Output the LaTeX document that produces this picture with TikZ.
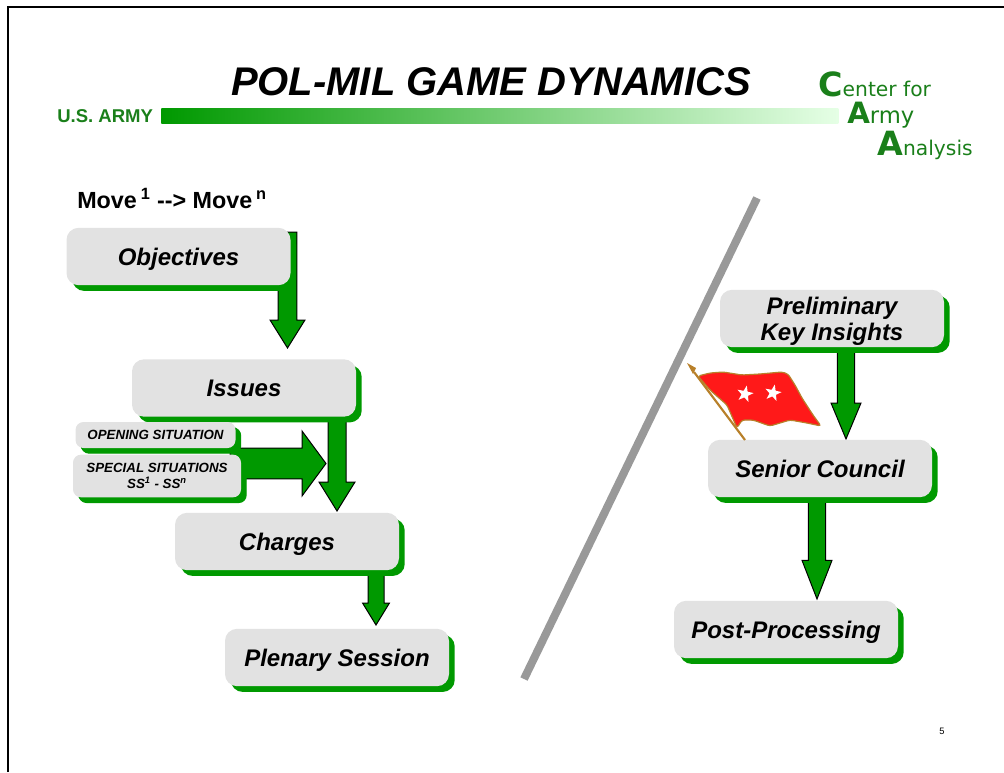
\documentclass[tikz,border=0pt]{standalone}
\usepackage{fontspec}
\setmainfont{Liberation Sans}
\newfontfamily\logofont{DejaVu Sans}
\usepackage{tikz}
\usetikzlibrary{positioning,calc,shadows,backgrounds,shapes.geometric}
\definecolor{cagreen}{HTML}{009900}
\definecolor{cabox}{HTML}{E2E2E2}
\definecolor{calogo}{HTML}{1A7F1A}
\definecolor{capole}{HTML}{B8802A}
\tikzset{gamebox/.style={shape=rectangle,rounded corners=9pt,fill=cabox,inner sep=0pt,align=center,text depth=0pt,
    font=\fontsize{18}{19.5}\selectfont\bfseries\itshape,minimum width=168pt,minimum height=43pt,
    general shadow={fill=cagreen,shadow xshift=4.3pt,shadow yshift=-4.3pt}}}
\tikzset{smallbox/.style={gamebox,rounded corners=6pt,font=\fontsize{10}{11.5}\selectfont\bfseries\itshape,
    general shadow={fill=cagreen,shadow xshift=3.8pt,shadow yshift=-3.8pt}}}
\tikzset{blockarrow/.style n args={3}{fill=cagreen,draw=black,line width=0.75pt,to path={
    ($(\tikztostart)!#1!90:(\tikztotarget)$)
    -- ($(\tikztotarget)!#3!(\tikztostart)!#1!90:(\tikztotarget)$)
    -- ($(\tikztotarget)!#3!(\tikztostart)!#2!90:(\tikztotarget)$)
    -- (\tikztotarget)
    -- ($(\tikztotarget)!#3!(\tikztostart)!#2!-90:(\tikztotarget)$)
    -- ($(\tikztotarget)!#3!(\tikztostart)!#1!-90:(\tikztotarget)$)
    -- ($(\tikztostart)!#1!-90:(\tikztotarget)$) -- cycle}}}
\tikzset{logotext/.style={anchor=base west,inner sep=0pt,text=calogo,font=\logofont\fontsize{15.2}{17}\selectfont}}
\tikzset{flagstar/.style={star,star points=5,star point ratio=2.5,fill=white,inner sep=0pt,minimum size=13pt,rotate=-12}}

\begin{document}
\begin{tikzpicture}[x=0.75pt,y=-0.75pt]
    \useasboundingbox (0,0) rectangle (1004,772);
    \draw[line width=1.5pt] (8,772) -- (8,7) -- (1004,7);

    % header
    \node[inner sep=0pt,font=\fontsize{30}{32}\selectfont\bfseries\itshape,anchor=base] (title) at (491,95) {POL-MIL GAME DYNAMICS};
    \node[inner sep=0pt,anchor=base west,text=calogo,font=\fontsize{13.9}{15}\selectfont\bfseries] (army) at (57,122) {U.S. ARMY};
    \node[shape=rectangle,inner sep=0pt,minimum width=507.75pt,minimum height=11.25pt,left color=cagreen,right color=green!10!white,anchor=west] (bar) at (161,115.5) {};
    \node[logotext] (center) at (818,96) {{\fontsize{25}{25}\selectfont\bfseries C}enter for};
    \node[logotext] (armyname) at (847,123) {{\fontsize{22}{22}\selectfont\bfseries A}{\fontsize{17}{17}\selectfont rmy}};
    \node[logotext] (analysis) at (877,155) {{\fontsize{25}{25}\selectfont\bfseries A}nalysis};

    \node[inner sep=0pt,anchor=base west,font=\fontsize{17.5}{19}\selectfont\bfseries] (move) at (77,208) {Move\,\textsuperscript{1} -{}-> Move\,\textsuperscript{n}};

    % left column
    \node[gamebox] (objectives) at (178.5,256.5) {Objectives};
    \node[gamebox] (issues) at (244,388) {Issues};
    \node[smallbox,minimum width=120pt,minimum height=19.5pt] (opening) at (155.5,435) {OPENING SITUATION};
    \node[smallbox,minimum width=126pt,minimum height=32pt] (special) at (157,476) {SPECIAL SITUATIONS\\SS\textsuperscript{1} - SS\textsuperscript{n}};
    \node[gamebox] (charges) at (287,541.5) {Charges};
    \node[gamebox] (plenary) at (337,657.5) {Plenary Session};

    % divider
    \coordinate (slashlow) at (524,679);
    \coordinate (slashhigh) at (757,198);
    \draw[line width=6pt,color=black!40] (slashlow) -- (slashhigh);

    % right column
    \node[gamebox] (insights) at (832,318.5) {Preliminary\\Key Insights};
    \node[gamebox] (council) at (820,468.5) {Senior Council};
    \node[gamebox] (postproc) at (786,629.5) {Post-Processing};

    % flag
    \draw[line width=1.6pt,color=capole] (694,372) -- (745,440);
    \fill[capole] (687,363) -- (696,368) -- (693,374) -- cycle;
    \draw[fill=red!90!white,draw=capole,line width=0.9pt,rounded corners=2pt] (698,376) -- (710,373) -- (723,372) -- (742,375) -- (760,374) -- (782,372)
        -- (788,374) -- (795,385) -- (802,398) -- (813,415) -- (821,426) -- (807,423) -- (790,420) -- (770,426)
        -- (753,420) -- (742,420) -- (737,428) -- (727,405) -- (710,390) -- cycle;
    \node[flagstar] (leftstar) at (745,394) {};
    \node[flagstar] (rightstar) at (773,393) {};

    \node[inner sep=0pt,font=\fontsize{7}{8}\selectfont] (page) at (942,731) {5};

    % arrow ends
    \coordinate (objout) at (287.5,232);
    \coordinate (objin) at (287.5,348);
    \coordinate (issout) at (337,405);
    \coordinate (issin) at (337,511);
    \coordinate (sitout) at (230,463.5);
    \coordinate (sitin) at (326,463.5);
    \coordinate (chaout) at (376,560);
    \coordinate (chain) at (376,625);
    \coordinate (insout) at (846,340);
    \coordinate (insin) at (846,439);
    \coordinate (couout) at (817,490);
    \coordinate (couin) at (817,599);

    \begin{pgfonlayer}{background}
    \path[blockarrow={7.1pt}{13.1pt}{21pt}] (objout) to (objin);
    \path[blockarrow={6.75pt}{13.5pt}{21.75pt}] (issout) to (issin);
    \path[blockarrow={11.6pt}{24.4pt}{18pt}] (sitout) to (sitin);
    \path[blockarrow={6pt}{10.1pt}{16.5pt}] (chaout) to (chain);
    \path[blockarrow={6.4pt}{11.25pt}{27pt}] (insout) to (insin);
    \path[blockarrow={6.4pt}{11.25pt}{29pt}] (couout) to (couin);
    \end{pgfonlayer}
\end{tikzpicture}
\end{document}
